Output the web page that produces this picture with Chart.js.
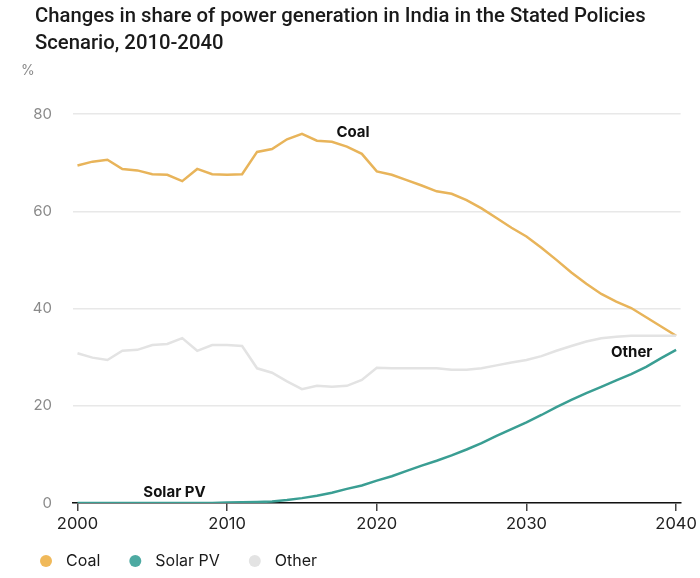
<!DOCTYPE html>
<html>
<head>
<meta charset="utf-8">
<script src="https://cdn.jsdelivr.net/npm/chart.js@4/dist/chart.umd.min.js"></script>
<style>
  html, body { margin: 0; padding: 0; background: #fff; }
  #wrap { position: relative; width: 700px; height: 578px; }
</style>
</head>
<body>
<div id="wrap"><canvas id="c"></canvas></div>
<script>
const titleLines = ["Changes in share of power generation in India in the Stated Policies", "Scenario, 2010-2040"];
const unitLabel = "%";
const years = [];
for (let y = 2000; y <= 2040; y++) years.push(y);
const seriesNames = ["Coal", "Solar PV", "Other"];
const coal = [69.4,70.2,70.6,68.7,68.4,67.6,67.5,66.2,68.7,67.6,
              67.5,67.6,72.2,72.8,74.8,75.9,74.5,74.3,73.3,71.8,
              68.2,67.5,66.4,65.3,64.1,63.6,62.3,60.6,58.6,56.6,
              54.8,52.5,50.0,47.4,45.1,43.0,41.4,40.1,38.2,36.3,34.4];
const solarPV = [0,0,0,0,0,0,0,0,0,0,
                 0.1,0.15,0.2,0.3,0.6,1.0,1.5,2.1,2.9,3.6,
                 4.6,5.5,6.6,7.7,8.7,9.8,11.0,12.3,13.8,15.2,
                 16.6,18.1,19.7,21.2,22.6,23.9,25.2,26.5,28.0,29.8,31.5];
const other = [30.8,29.9,29.4,31.3,31.5,32.5,32.7,33.9,31.3,32.5,
               32.5,32.3,27.7,26.8,25.0,23.4,24.1,23.9,24.1,25.3,
               27.8,27.7,27.7,27.7,27.7,27.4,27.4,27.7,28.3,28.9,
               29.4,30.2,31.3,32.3,33.2,33.9,34.2,34.4,34.4,34.4,34.4];
const xTicks = [2000, 2010, 2020, 2030, 2040];
const yTicks = [0, 20, 40, 60, 80];
// inline label anchors in data units [year, value]
const labelAnchors = { "Coal": [2017.3, 76.3], "Solar PV": [2004.4, 2.1], "Other": [2035.65, 31.0] };

const colors = { "Coal": "#E8B45A", "Solar PV": "#3A9E93", "Other": "#E3E3E3" };
const legendColors = { "Coal": "#F0B95A", "Solar PV": "#4DAAA2", "Other": "#E3E3E3" };

const toPts = arr => arr.map((v, i) => ({ x: years[i], y: v }));

const overlay = {
  id: 'overlay',
  afterDraw(chart) {
    const ctx = chart.ctx;
    const xs = chart.scales.x, ys = chart.scales.y;
    ctx.save();
    // title
    ctx.fillStyle = '#1a1a1a';
    ctx.font = '500 20.3px Roboto';
    ctx.textBaseline = 'middle';
    ctx.textAlign = 'left';
    ctx.fillText(titleLines[0], 35, 17);
    ctx.fillText(titleLines[1], 35, 44);
    // unit
    ctx.fillStyle = '#8a8a8a';
    ctx.font = '14px Inter';
    ctx.fillText(unitLabel, 21, 71);
    // inline labels
    ctx.fillStyle = '#111';
    ctx.font = 'bold 15px Inter';
    seriesNames.forEach(n => {
      const a = labelAnchors[n];
      ctx.fillText(n, xs.getPixelForValue(a[0]), ys.getPixelForValue(a[1]));
    });
    // legend
    let lx = 46;
    ctx.font = '16px Inter';
    seriesNames.forEach(n => {
      ctx.fillStyle = legendColors[n];
      ctx.beginPath();
      ctx.arc(lx, 561, 6, 0, Math.PI * 2);
      ctx.fill();
      ctx.fillStyle = '#1a1a1a';
      ctx.fillText(n, lx + 20, 561);
      lx += 20 + ctx.measureText(n).width + 35;
    });
    ctx.restore();
  }
};

new Chart(document.getElementById('c'), {
  type: 'line',
  data: {
    datasets: [
      { label: seriesNames[2], data: toPts(other), borderColor: colors["Other"], borderWidth: 2.5, pointRadius: 0, tension: 0 },
      { label: seriesNames[1], data: toPts(solarPV), borderColor: colors["Solar PV"], borderWidth: 2.5, pointRadius: 0, tension: 0 },
      { label: seriesNames[0], data: toPts(coal), borderColor: colors["Coal"], borderWidth: 2.5, pointRadius: 0, tension: 0 }
    ]
  },
  options: {
    responsive: true,
    maintainAspectRatio: false,
    animation: false,
    layout: { padding: { left: 0, right: 17, top: 114, bottom: 0 } },
    plugins: { legend: { display: false }, tooltip: { enabled: false }, title: { display: false } },
    scales: {
      x: {
        type: 'linear',
        min: 1999.7, max: 2040.3,
        afterBuildTicks: s => { s.ticks = xTicks.map(v => ({ value: v })); },
        afterFit: s => { s.height = 75; },
        grid: { display: true, drawOnChartArea: false, drawTicks: true, tickLength: 8, color: '#444', lineWidth: 1.5 },
        border: { display: true, color: '#111', width: 1.5 },
        ticks: { color: '#222', font: { family: 'Inter', size: 16.5 }, padding: 3, callback: v => String(v), maxRotation: 0 }
      },
      y: {
        min: 0, max: 80,
        afterBuildTicks: s => { s.ticks = yTicks.map(v => ({ value: v })); },
        afterFit: s => { s.width = 73; },
        grid: { color: '#E8E8E8', lineWidth: 1.5, drawTicks: false },
        border: { display: false },
        ticks: { color: '#8a8a8a', font: { family: 'Inter', size: 15 }, padding: 21 }
      }
    }
  },
  plugins: [overlay]
});
</script>
</body>
</html>
